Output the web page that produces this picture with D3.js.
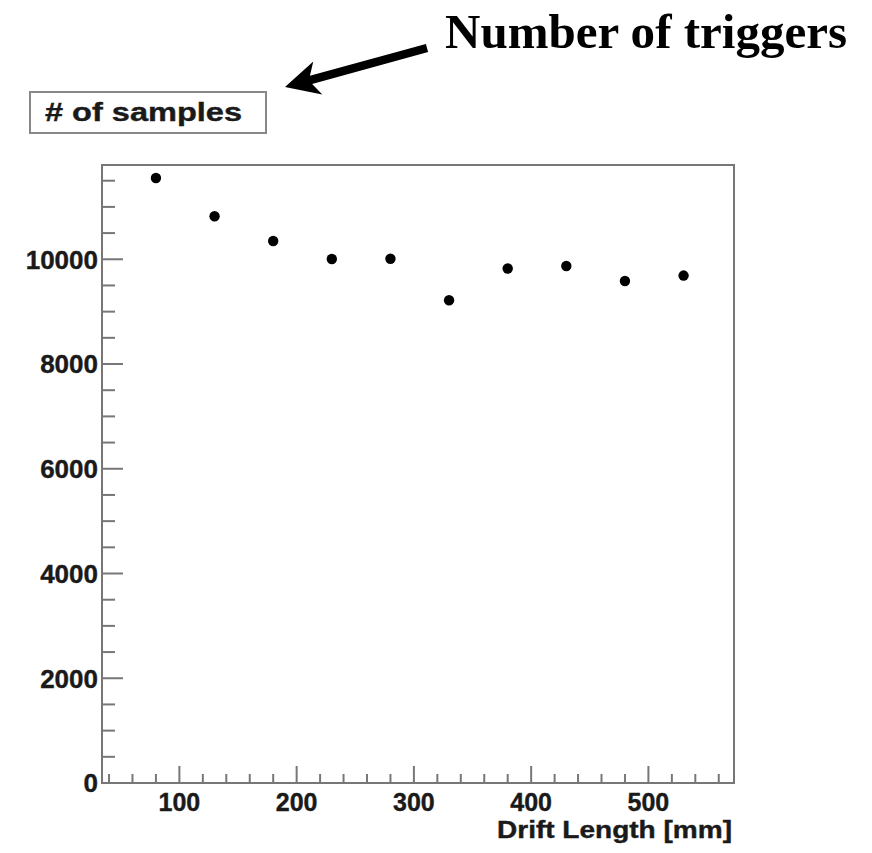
<!DOCTYPE html>
<html>
<head>
<meta charset="utf-8">
<script src="https://cdn.jsdelivr.net/npm/d3@7"></script>
<style>
  html, body { margin: 0; padding: 0; background: #fff; }
  svg { display: block; }
</style>
</head>
<body>
<svg id="chart" width="872" height="853"></svg>
<script>
// ---- data ----
const driftLength = [80, 130, 180, 230, 280, 330, 380, 430, 480, 530];
const numSamples = [11552, 10821, 10349, 10006, 10010, 9218, 9823, 9872, 9586, 9689];
const xTicks = [100, 200, 300, 400, 500];
const yTicks = [0, 2000, 4000, 6000, 8000, 10000];
const xDomain = [34, 573];
const yDomain = [0, 11800];
const titleText = "# of samples";
const xAxisTitle = "Drift Length [mm]";
const annotationText = "Number of triggers";

// ---- layout ----
const frame = { left: 102, right: 734, top: 165, bottom: 783 };
const svg = d3.select("#chart");

const x = d3.scaleLinear().domain(xDomain).range([frame.left, frame.right]);
const y = d3.scaleLinear().domain(yDomain).range([frame.bottom, frame.top]);

const axisColor = "#777";
const textColor = "#1a1a1a";
const font = "'Liberation Sans', Arial, Helvetica, sans-serif";

// frame
svg.append("rect")
  .attr("x", frame.left).attr("y", frame.top)
  .attr("width", frame.right - frame.left)
  .attr("height", frame.bottom - frame.top)
  .attr("fill", "#fff").attr("stroke", axisColor).attr("stroke-width", 2);

// y ticks (inward)
const yMinor = d3.range(0, yDomain[1], 500).filter(v => v % 2000 !== 0);
svg.append("g").selectAll("line").data(yMinor).join("line")
  .attr("x1", frame.left).attr("x2", frame.left + 13)
  .attr("y1", d => y(d)).attr("y2", d => y(d))
  .attr("stroke", axisColor).attr("stroke-width", 2);
svg.append("g").selectAll("line").data(yTicks).join("line")
  .attr("x1", frame.left).attr("x2", frame.left + 21)
  .attr("y1", d => y(d)).attr("y2", d => y(d))
  .attr("stroke", axisColor).attr("stroke-width", 2);
svg.append("g").selectAll("text").data(yTicks).join("text")
  .attr("x", frame.left - 4).attr("y", d => y(d))
  .attr("dy", "0.36em")
  .attr("text-anchor", "end")
  .attr("font-family", font).attr("font-weight", "bold").attr("font-size", 26)
  .attr("fill", textColor).attr("stroke", textColor).attr("stroke-width", 0.4)
  .text(d => d);

// x ticks (inward)
const xMinor = d3.range(40, xDomain[1], 20).filter(v => v % 100 !== 0);
svg.append("g").selectAll("line").data(xMinor).join("line")
  .attr("x1", d => x(d)).attr("x2", d => x(d))
  .attr("y1", frame.bottom).attr("y2", frame.bottom - 9)
  .attr("stroke", axisColor).attr("stroke-width", 2);
svg.append("g").selectAll("line").data(xTicks).join("line")
  .attr("x1", d => x(d)).attr("x2", d => x(d))
  .attr("y1", frame.bottom).attr("y2", frame.bottom - 17)
  .attr("stroke", axisColor).attr("stroke-width", 2);
svg.append("g").selectAll("text").data(xTicks).join("text")
  .attr("x", d => x(d)).attr("y", 811)
  .attr("text-anchor", "middle")
  .attr("font-family", font).attr("font-weight", "bold").attr("font-size", 25)
  .attr("fill", textColor).attr("stroke", textColor).attr("stroke-width", 0.4)
  .text(d => d);

// x axis title
svg.append("text")
  .attr("x", 497).attr("y", 838)
  .attr("textLength", 235).attr("lengthAdjust", "spacingAndGlyphs")
  .attr("font-family", font).attr("font-weight", "bold").attr("font-size", 23)
  .attr("fill", textColor).attr("stroke", textColor).attr("stroke-width", 0.4)
  .text(xAxisTitle);

// points
svg.append("g").selectAll("circle").data(driftLength).join("circle")
  .attr("cx", d => x(d))
  .attr("cy", (d, i) => y(numSamples[i]))
  .attr("r", 5.2)
  .attr("fill", "#000");

// title box
svg.append("rect")
  .attr("x", 30).attr("y", 92).attr("width", 236).attr("height", 41)
  .attr("fill", "#fff").attr("stroke", "#888").attr("stroke-width", 2);
svg.append("text")
  .attr("x", 45).attr("y", 121)
  .attr("textLength", 197).attr("lengthAdjust", "spacingAndGlyphs")
  .attr("font-family", font).attr("font-weight", "bold").attr("font-size", 26)
  .attr("fill", textColor).attr("stroke", textColor).attr("stroke-width", 0.4)
  .text(titleText);

// annotation text
svg.append("text")
  .attr("x", 445).attr("y", 48)
  .attr("textLength", 402).attr("lengthAdjust", "spacingAndGlyphs")
  .attr("font-family", "'Liberation Serif', 'DejaVu Serif', serif")
  .attr("font-weight", "bold").attr("font-size", 49)
  .attr("fill", "#000")
  .text(annotationText);

// annotation arrow
const tail = [427, 48], tip = [285, 87];
const L = Math.hypot(tail[0] - tip[0], tail[1] - tip[1]);
const u = [(tail[0] - tip[0]) / L, (tail[1] - tip[1]) / L];
const n = [-u[1], u[0]];
const pt = (a, b) => [tip[0] + u[0] * a + n[0] * b, tip[1] + u[1] * a + n[1] * b];
const hw = 4.2;
const arrowPts = [
  pt(0, 0), pt(34, -17), pt(27, -hw), pt(L, -hw), pt(L, hw), pt(27, hw), pt(34, 17)
];
svg.append("path")
  .attr("d", d3.line()(arrowPts) + "Z")
  .attr("fill", "#000");
</script>
</body>
</html>
